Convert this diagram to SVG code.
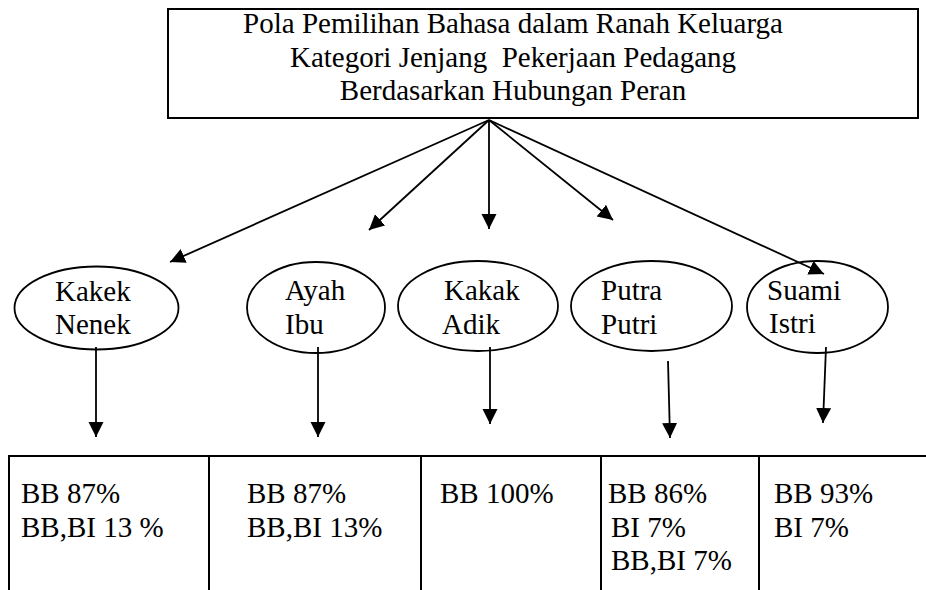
<svg xmlns="http://www.w3.org/2000/svg" width="926" height="590" viewBox="0 0 926 590">
<style>
  text { font-family: "Liberation Serif", "Times New Roman", serif; font-size: 29px; fill: #000; white-space: pre; }
  .box { fill: #fff; stroke: #000; stroke-width: 2; }
  .ell { fill: #fff; stroke: #000; stroke-width: 1.8; }
  .con line { stroke: #000; stroke-width: 1.8; marker-end: url(#ah); }
  .tbl line { stroke: #000; stroke-width: 2; }
</style>
<defs>
  <marker id="ah" markerUnits="userSpaceOnUse" markerWidth="16" markerHeight="16" refX="15" refY="7.5" orient="auto">
    <path d="M0,0 L15,7.5 L0,15 z" fill="#000"/>
  </marker>
</defs>
<rect width="926" height="590" fill="#fff"/>

<g id="title">
  <rect class="box" x="168" y="9" width="750" height="109"/>
  <text x="513" y="33" text-anchor="middle">Pola Pemilihan Bahasa dalam Ranah Keluarga</text>
  <text x="513" y="66.5" text-anchor="middle">Kategori Jenjang  Pekerjaan Pedagang</text>
  <text x="513" y="100" text-anchor="middle">Berdasarkan Hubungan Peran</text>
</g>

<g id="kakek-nenek">
  <ellipse class="ell" cx="96.5" cy="308" rx="82" ry="41.5"/>
  <text x="55" y="301">Kakek</text>
  <text x="55" y="334">Nenek</text>
</g>
<g id="ayah-ibu">
  <ellipse class="ell" cx="316" cy="307.5" rx="69" ry="45.5"/>
  <text x="285" y="300">Ayah</text>
  <text x="285" y="334">Ibu</text>
</g>
<g id="kakak-adik">
  <ellipse class="ell" cx="478" cy="306" rx="80" ry="45"/>
  <text x="444" y="300">Kakak</text>
  <text x="442" y="334">Adik</text>
</g>
<g id="putra-putri">
  <ellipse class="ell" cx="651.5" cy="306" rx="80.5" ry="45"/>
  <text x="601" y="300">Putra</text>
  <text x="601" y="334">Putri</text>
</g>
<g id="suami-istri">
  <ellipse class="ell" cx="817.5" cy="307" rx="70.5" ry="46"/>
  <text x="767" y="300">Suami</text>
  <text x="769" y="333">Istri</text>
</g>

<g id="table" class="tbl">
  <line x1="8" y1="456" x2="926" y2="456"/>
  <line x1="9" y1="455" x2="9" y2="590"/>
  <line x1="209" y1="455" x2="209" y2="590"/>
  <line x1="421" y1="455" x2="421" y2="590"/>
  <line x1="601" y1="455" x2="601" y2="590"/>
  <line x1="759" y1="455" x2="759" y2="590"/>
</g>
<g id="cell-kakek">
  <text x="21" y="503">BB 87%</text>
  <text x="21" y="537">BB,BI 13 %</text>
</g>
<g id="cell-ayah">
  <text x="247" y="503">BB 87%</text>
  <text x="247" y="537">BB,BI 13%</text>
</g>
<g id="cell-kakak">
  <text x="440" y="503">BB 100%</text>
</g>
<g id="cell-putra">
  <text x="608" y="503">BB 86%</text>
  <text x="611" y="537">BI 7%</text>
  <text x="611" y="570">BB,BI 7%</text>
</g>
<g id="cell-suami">
  <text x="774" y="503">BB 93%</text>
  <text x="774" y="537">BI 7%</text>
</g>

<g id="connectors" class="con">
  <line x1="489" y1="120" x2="170" y2="262"/>
  <line x1="489" y1="120" x2="369" y2="230"/>
  <line x1="489" y1="120" x2="489" y2="229"/>
  <line x1="489" y1="120" x2="613" y2="220"/>
  <line x1="489" y1="120" x2="824" y2="274"/>
  <line x1="96" y1="347" x2="96" y2="437"/>
  <line x1="318" y1="347" x2="318" y2="437"/>
  <line x1="490" y1="347" x2="490" y2="424"/>
  <line x1="668" y1="361" x2="670" y2="438"/>
  <line x1="826" y1="347" x2="823" y2="423"/>
</g>
</svg>
